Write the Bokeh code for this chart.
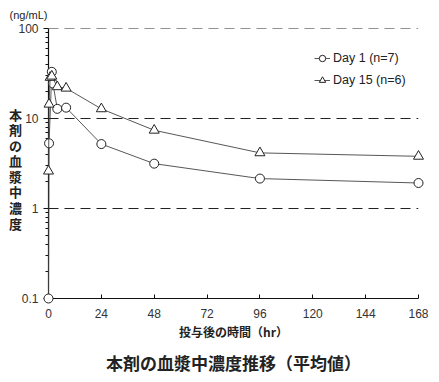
from bokeh.plotting import figure
from bokeh.models import Range1d, FixedTicker, Legend, LegendItem, Span, Title
from bokeh.core.properties import value
from bokeh.embed import file_html
from bokeh.resources import INLINE

day1_hours = [0, 0.25, 1.5, 2, 4, 8, 24, 48, 96, 168]
day1_conc = [0.1, 5.3, 33, 24.5, 12.8, 13.2, 5.2, 3.15, 2.15, 1.92]
day15_hours = [0, 0.25, 0.75, 1.5, 4, 8, 24, 48, 96, 168]
day15_conc = [2.6, 14.4, 28.6, 29.5, 22.5, 21.7, 12.8, 7.4, 4.15, 3.8]
x_ticks = [0, 24, 48, 72, 96, 120, 144, 168]
y_ticks = [0.1, 1, 10, 100]
y_tick_labels = ["0.1", "1", "10", "100"]
dashed_levels = [1, 10, 100]
series_labels = ["Day 1 (n=7)", "Day 15 (n=6)"]

JP = "Noto Sans CJK JP"
LAT = "Liberation Sans"

p = figure(width=431, height=382, y_axis_type="log",
           x_range=Range1d(0, 168), y_range=Range1d(0.1, 100),
           output_backend="svg", toolbar_location=None,
           min_border_left=48, min_border_right=13, min_border_top=28, min_border_bottom=84)
p.title.text = ""
p.outline_line_color = None
p.background_fill_color = "white"

# axes
p.xaxis.ticker = FixedTicker(ticks=x_ticks)
p.xaxis.major_tick_in = 4
p.xaxis.major_tick_out = 0
p.xaxis.major_label_standoff = 10
p.xaxis.axis_label = "投与後の時間（hr）"
p.xaxis.axis_label_text_font = JP
p.xaxis.axis_label_text_font_style = "bold"
p.xaxis.axis_label_text_font_size = "12px"
p.xaxis.axis_label_text_color = "#222222"
p.xaxis.axis_label_standoff = 2

p.yaxis.ticker = FixedTicker(ticks=y_ticks,
                             minor_ticks=[m * d for d in [0.1, 1, 10] for m in range(2, 10)])
p.yaxis.major_label_overrides = dict(zip(y_ticks, y_tick_labels))
p.yaxis.major_tick_out = 5
p.yaxis.major_tick_in = 0
p.yaxis.minor_tick_out = 3
p.yaxis.minor_tick_in = 0
p.yaxis.major_label_standoff = 5

for ax in (p.xaxis, p.yaxis):
    ax.axis_line_color = "#111111"
    ax.axis_line_width = 1.2
    ax.major_tick_line_color = "#111111"
    ax.major_label_text_font = LAT
    ax.major_label_text_font_size = "12px"
    ax.major_label_text_color = "#333333"
p.xaxis.minor_tick_line_color = None
p.yaxis.minor_tick_line_color = "#111111"

p.xgrid.grid_line_color = None
p.ygrid.grid_line_color = None

for lv in dashed_levels:
    sp = Span(location=lv, dimension="width", line_color="#222222",
              line_dash="10 6", line_width=1, level="overlay")
    p.add_layout(sp)

# data
l1 = p.line(day1_hours, day1_conc, line_color="#444444", line_width=0.9)
s1 = p.scatter(day1_hours, day1_conc, marker="circle", size=9, fill_color="white",
               line_color="#222222", line_width=1)
l2 = p.line(day15_hours, day15_conc, line_color="#444444", line_width=0.9)
s2 = p.scatter(day15_hours, day15_conc, marker="triangle", size=10, fill_color="white",
               line_color="#222222", line_width=1)
for r in (l1, l2, s1, s2):
    r.level = "overlay"

legend = Legend(items=[LegendItem(label=series_labels[0], renderers=[l1, s1]),
                       LegendItem(label=series_labels[1], renderers=[l2, s2])],
                location=(266, 208), border_line_color=None, background_fill_alpha=0,
                padding=0, margin=0, spacing=2, glyph_width=16, glyph_height=20,
                label_height=20, label_standoff=3,
                label_text_font=LAT, label_text_font_size="12.5px", label_text_color="#222222")
p.add_layout(legend, "center")

# texts outside the frame (overlay level glyphs are not clipped)
t1 = p.text(x=[-15], y=[2.78], text=["本\n剤\nの\n血\n漿\n中\n濃\n度"],
            text_font=value(JP), text_font_size="13px", text_font_style="bold",
            text_color="#222222", text_align="center", text_baseline="middle",
            text_line_height=0.82)
t2 = p.text(x=[-17.7], y=[143], text=["(ng/mL)"], text_font=value(LAT),
            text_font_size="11px", text_color="#222222", text_align="left",
            text_baseline="middle")
t1.level = "overlay"
t2.level = "overlay"

title = Title(text="本剤の血漿中濃度推移（平均値）", align="center", text_font=JP,
              text_font_size="17px", text_font_style="bold", text_color="#222222",
              standoff=11)
p.add_layout(title, "below")

open("out.html", "w").write(file_html(p, INLINE))
